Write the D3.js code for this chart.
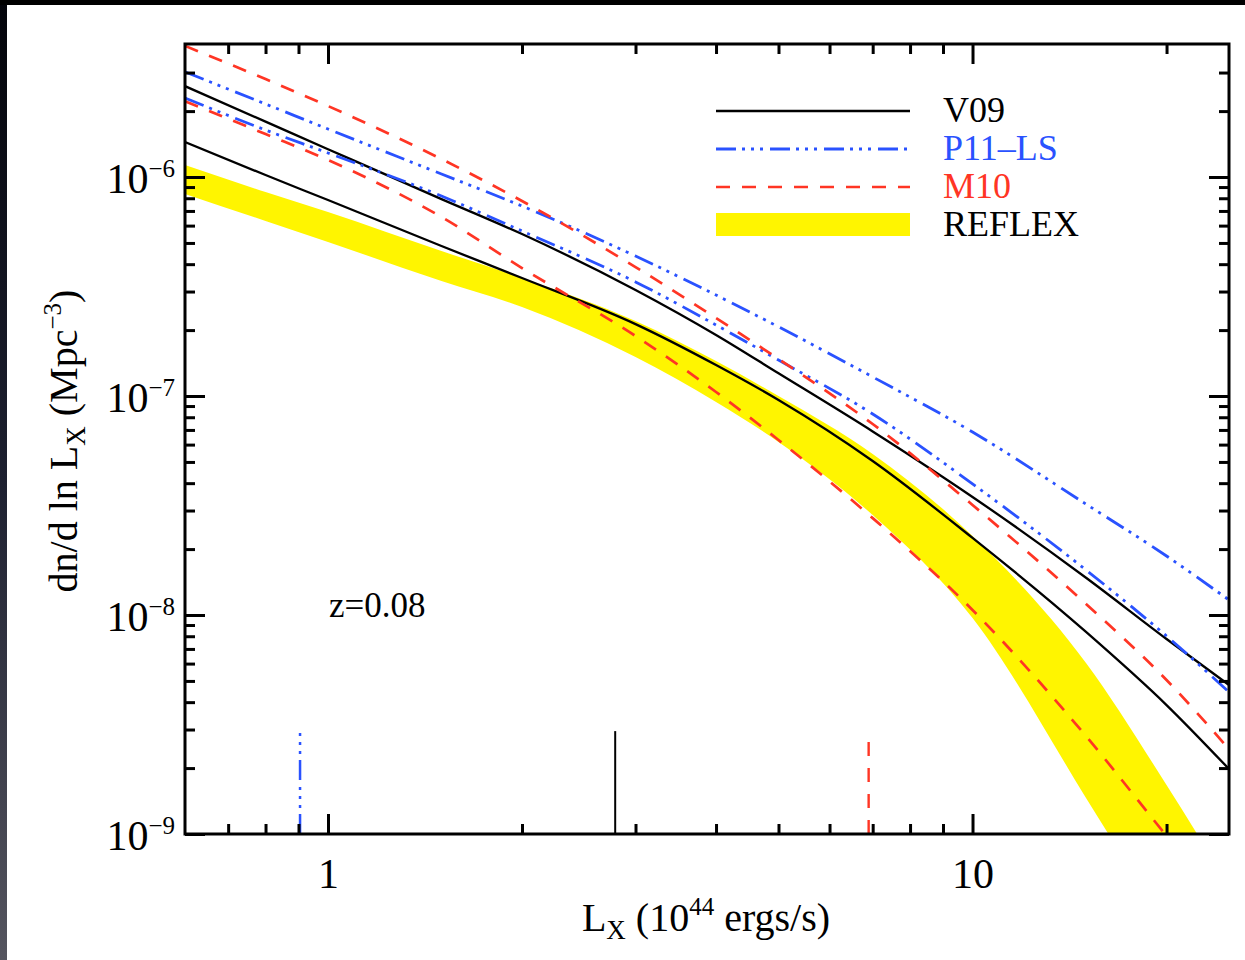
<!DOCTYPE html>
<html>
<head>
<meta charset="utf-8">
<script src="https://cdn.jsdelivr.net/npm/d3@7"></script>
<style>
  html, body { margin: 0; padding: 0; background: #fff; }
  svg { display: block; }
  text { font-family: "Liberation Serif", "Times New Roman", serif; fill: #000; }
</style>
</head>
<body>
<svg id="chart" width="1245" height="960"></svg>
<script>
// L_X grid (10^44 erg/s) the curves were read at
var lx = [0.6, 0.8, 1, 1.5, 2, 3, 4, 5, 7, 10, 15, 20, 25];

// dn/dlnLx (Mpc^-3), upper and lower curve of each model
var v09Hi = [2.60e-6, 1.79e-6, 1.34e-6, 7.93e-7, 5.49e-7, 3.05e-7, 1.90e-7, 1.27e-7, 6.89e-8, 3.46e-8, 1.48e-8, 7.77e-9, 4.79e-9];
var v09Lo = [1.445e-6, 1.021e-6, 7.85e-7, 4.84e-7, 3.46e-7, 2.13e-7, 1.385e-7, 9.59e-8, 5.05e-8, 2.25e-8, 8.37e-9, 3.88e-9, 1.98e-9];
var p11Hi = [3.02e-6, 2.155e-6, 1.657e-6, 1.032e-6, 7.37e-7, 4.36e-7, 2.89e-7, 2.07e-7, 1.222e-7, 6.85e-8, 3.21e-8, 1.86e-8, 1.171e-8];
var p11Lo = [2.295e-6, 1.639e-6, 1.288e-6, 8.19e-7, 5.67e-7, 3.32e-7, 2.11e-7, 1.46e-7, 8.28e-8, 3.97e-8, 1.605e-8, 8.02e-9, 4.45e-9];
var m10Hi = [3.97e-6, 2.80e-6, 2.11e-6, 1.208e-6, 7.77e-7, 3.88e-7, 2.27e-7, 1.476e-7, 7.45e-8, 3.18e-8, 1.123e-8, 5.05e-9, 2.44e-9];
var m10Lo = [2.22e-6, 1.571e-6, 1.196e-6, 6.57e-7, 3.84e-7, 1.88e-7, 1.043e-7, 6.30e-8, 2.77e-8, 1.054e-8, 2.80e-9, 9.8e-10, 4.4e-10];
var reflexHi = [1.134e-6, 8.54e-7, 6.92e-7, 4.59e-7, 3.46e-7, 2.20e-7, 1.444e-7, 1.0e-7, 5.44e-8, 2.295e-8, 6.04e-9, 1.674e-9, 5.79e-10];
var reflexLo = [8.37e-7, 6.30e-7, 5.05e-7, 3.35e-7, 2.55e-7, 1.507e-7, 9.39e-8, 6.17e-8, 2.86e-8, 9.69e-9, 1.46e-9, 3.6e-10, 1.0e-10];

// flux-limit markers near the bottom axis: V09, P11-LS, M10
var markLx = [2.79, 0.905, 6.9];
var markTop = [2.95e-9, 3.0e-9, 2.63e-9];

var legendNames = ['V09', 'P11\u2013LS', 'M10', 'REFLEX'];
var xTicks = [1, 10];
var xMinor = [0.7, 0.8, 0.9, 2, 3, 4, 5, 6, 7, 8, 9, 20];
var yTicks = [1e-9, 1e-8, 1e-7, 1e-6];
var yMinor = [];
[1e-9, 1e-8, 1e-7].forEach(function(d) {
  for (var k = 2; k <= 9; k++) yMinor.push(k * d);
});
yMinor.push(2e-6, 3e-6);

var blue = '#2a52ff', red = '#ff3524', yellow = '#fff500';

var models = [
  {name: legendNames[0], color: '#000', dash: null, width: 2.3, hi: v09Hi, lo: v09Lo, mark: 0},
  {name: legendNames[1], color: blue, dash: '20,6,3,6,3,6,3,7', width: 2.8, hi: p11Hi, lo: p11Lo, mark: 1},
  {name: legendNames[2], color: red, dash: '14,12', width: 2.7, hi: m10Hi, lo: m10Lo, mark: 2}
];

var svg = d3.select('#chart');
var pLeft = 185, pRight = 1229, pTop = 44, pBottom = 834;

// page edges: dark strip on the left, black band on top
var defs = svg.append('defs');
var grad = defs.append('linearGradient')
  .attr('id', 'edge').attr('x1', 0).attr('y1', 0).attr('x2', 0).attr('y2', 1);
grad.append('stop').attr('offset', 0).attr('stop-color', '#03040a');
grad.append('stop').attr('offset', 0.5).attr('stop-color', '#1d2030');
grad.append('stop').attr('offset', 1).attr('stop-color', '#55555f');
svg.append('rect').attr('x', 0).attr('y', 0).attr('width', 7).attr('height', 960).attr('fill', 'url(#edge)');
svg.append('rect').attr('x', 0).attr('y', 0).attr('width', 1245).attr('height', 5).attr('fill', '#000');

defs.append('clipPath').attr('id', 'plot')
  .append('rect').attr('x', pLeft).attr('y', pTop).attr('width', pRight - pLeft).attr('height', pBottom - pTop);

var x = d3.scaleLog().domain([0.6, 25]).range([pLeft, pRight]);
var y = d3.scaleLog().domain([1e-9, 4.05e-6]).range([pBottom, pTop]);

var plot = svg.append('g').attr('clip-path', 'url(#plot)');

// REFLEX band
var band = lx.map(function(d, i) { return [d, reflexLo[i], reflexHi[i]]; });
plot.append('path')
  .datum(band)
  .attr('fill', yellow)
  .attr('d', d3.area()
    .x(function(d) { return x(d[0]); })
    .y0(function(d) { return y(d[1]); })
    .y1(function(d) { return y(d[2]); })
    .curve(d3.curveMonotoneX));

var line = d3.line()
  .x(function(d) { return x(d[0]); })
  .y(function(d) { return y(d[1]); })
  .curve(d3.curveMonotoneX);

models.forEach(function(m) {
  [m.hi, m.lo].forEach(function(vals) {
    plot.append('path')
      .datum(lx.map(function(d, i) { return [d, vals[i]]; }))
      .attr('fill', 'none')
      .attr('stroke', m.color)
      .attr('stroke-width', m.width)
      .attr('stroke-dasharray', m.dash)
      .attr('d', line);
  });
  plot.append('line')
    .attr('x1', x(markLx[m.mark])).attr('x2', x(markLx[m.mark]))
    .attr('y1', y(1e-9)).attr('y2', y(markTop[m.mark]))
    .attr('stroke', m.color)
    .attr('stroke-width', m.width - 0.3)
    .attr('stroke-dasharray', m.dash);
});

// axes, ticks pointing inward on all four sides
function styleAxis(g) {
  g.select('.domain').remove();
  g.selectAll('line').attr('stroke', '#000').attr('stroke-width', 3);
  g.selectAll('text').attr('font-size', 42).attr('fill', '#000');
}

function expLabel(d) {
  var t = d3.select(this).text('');
  t.append('tspan').text('10');
  t.append('tspan').attr('font-size', 25).attr('dy', -16)
    .text('\u2212' + Math.round(-Math.log10(d)));
}

svg.append('g').attr('transform', 'translate(0,' + pBottom + ')')
  .call(d3.axisBottom(x).tickValues(xTicks).tickFormat(d3.format('d'))
    .tickSizeInner(-20).tickSizeOuter(0).tickPadding(24))
  .call(styleAxis);
svg.append('g').attr('transform', 'translate(0,' + pBottom + ')')
  .call(d3.axisBottom(x).tickValues(xMinor).tickFormat('').tickSizeInner(-10).tickSizeOuter(0))
  .call(styleAxis);
svg.append('g').attr('transform', 'translate(0,' + pTop + ')')
  .call(d3.axisTop(x).tickValues(xTicks).tickFormat('').tickSizeInner(-20).tickSizeOuter(0))
  .call(styleAxis);
svg.append('g').attr('transform', 'translate(0,' + pTop + ')')
  .call(d3.axisTop(x).tickValues(xMinor).tickFormat('').tickSizeInner(-10).tickSizeOuter(0))
  .call(styleAxis);

svg.append('g').attr('transform', 'translate(' + pLeft + ',0)')
  .call(d3.axisLeft(y).tickValues(yTicks).tickSizeInner(-20).tickSizeOuter(0).tickPadding(10))
  .call(styleAxis)
  .selectAll('text').attr('dy', '0.36em').each(expLabel);
svg.append('g').attr('transform', 'translate(' + pLeft + ',0)')
  .call(d3.axisLeft(y).tickValues(yMinor).tickFormat('').tickSizeInner(-10).tickSizeOuter(0))
  .call(styleAxis);
svg.append('g').attr('transform', 'translate(' + pRight + ',0)')
  .call(d3.axisRight(y).tickValues(yTicks).tickFormat('').tickSizeInner(-20).tickSizeOuter(0))
  .call(styleAxis);
svg.append('g').attr('transform', 'translate(' + pRight + ',0)')
  .call(d3.axisRight(y).tickValues(yMinor).tickFormat('').tickSizeInner(-10).tickSizeOuter(0))
  .call(styleAxis);

svg.append('rect')
  .attr('x', pLeft).attr('y', pTop).attr('width', pRight - pLeft).attr('height', pBottom - pTop)
  .attr('fill', 'none').attr('stroke', '#000').attr('stroke-width', 3);

// axis titles
var xt = svg.append('text').attr('x', 706).attr('y', 931)
  .attr('text-anchor', 'middle').attr('font-size', 40);
xt.append('tspan').text('L');
xt.append('tspan').attr('font-size', 27).attr('dy', 8).text('X');
xt.append('tspan').attr('dy', -8).text(' (10');
xt.append('tspan').attr('font-size', 25).attr('dy', -16).text('44');
xt.append('tspan').attr('dy', 16).text(' ergs/s)');

var yt = svg.append('text').attr('transform', 'translate(77,441) rotate(-90)')
  .attr('text-anchor', 'middle').attr('font-size', 40);
yt.append('tspan').text('dn/d ln L');
yt.append('tspan').attr('font-size', 27).attr('dy', 8).text('X');
yt.append('tspan').attr('dy', -8).text(' (Mpc');
yt.append('tspan').attr('font-size', 25).attr('dy', -16).text('\u22123');
yt.append('tspan').attr('dy', 16).text(')');

svg.append('text').attr('x', 329).attr('y', 617).attr('font-size', 35).text('z=0.08');

// legend
var legend = svg.append('g');
var rowY = [111, 149, 187, 225];
models.forEach(function(m, i) {
  legend.append('line')
    .attr('x1', 716).attr('x2', 910).attr('y1', rowY[i]).attr('y2', rowY[i])
    .attr('stroke', m.color).attr('stroke-width', m.width).attr('stroke-dasharray', m.dash);
});
legend.append('rect').attr('x', 716).attr('y', 213).attr('width', 194).attr('height', 23).attr('fill', yellow);
legendNames.forEach(function(n, i) {
  legend.append('text').attr('x', 943).attr('y', rowY[i] + 11).attr('font-size', 36)
    .style('fill', i === 1 ? blue : i === 2 ? red : '#000')
    .text(n);
});
</script>
</body>
</html>
